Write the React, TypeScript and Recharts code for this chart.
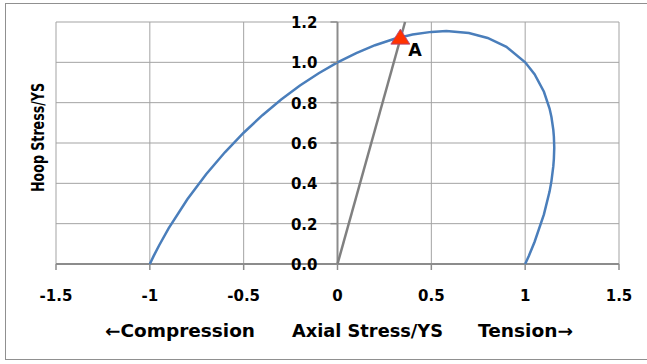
import React from 'react';
import { ScatterChart, Scatter, XAxis, YAxis, CartesianGrid, ReferenceLine } from 'recharts';

const axialTicks = [-1.5, -1, -0.5, 0, 0.5, 1, 1.5];
const hoopTicks = [0, 0.2, 0.4, 0.6, 0.8, 1.0, 1.2];

// yield envelope, traced from (-1, 0) over the top and back down to (1, 0)
const envelopeAxial = [
  -1, -0.98, -0.95, -0.9, -0.8, -0.7, -0.6, -0.5, -0.4, -0.3, -0.2, -0.1, 0,
  0.1, 0.2, 0.3, 0.4, 0.5, 0.58, 0.7, 0.8, 0.9, 1.0, 1.05, 1.1, 1.13, 1.14,
  1.15, 1.153, 1.155, 1.153, 1.15, 1.14, 1.13, 1.1, 1.05, 1.02, 1.0,
];
const envelopeHoop = [
  0, 0.039, 0.093, 0.177, 0.321, 0.445, 0.554, 0.651, 0.738, 0.816, 0.885, 0.946, 1.0,
  1.046, 1.085, 1.116, 1.138, 1.151, 1.155, 1.145, 1.121, 1.077, 1.0, 0.941, 0.854, 0.771, 0.729,
  0.665, 0.631, 0.577, 0.522, 0.485, 0.411, 0.359, 0.246, 0.109, 0.041, 0,
];

// straight load path from the origin
const loadPathAxial = [0, 0.36];
const loadPathHoop = [0, 1.2];

// point A where the load path meets the envelope
const pointAAxial = [0.335];
const pointAHoop = [1.125];
const pointALabel = ['A'];

const envelopeData = envelopeAxial.map((x, i) => ({ x, y: envelopeHoop[i] }));
const loadPathData = loadPathAxial.map((x, i) => ({ x, y: loadPathHoop[i] }));
const pointAData = pointAAxial.map((x, i) => ({ x, y: pointAHoop[i], label: pointALabel[i] }));

const W = 647;
const H = 364;
const Y_AXIS_W = 1;
const margin = { top: 22, right: 28, left: 55, bottom: 70 };
const plotLeft = margin.left + Y_AXIS_W;
const plotW = W - plotLeft - margin.right;
const xMin = axialTicks[0];
const xMax = axialTicks[axialTicks.length - 1];
const zeroX = plotLeft + (plotW * (0 - xMin)) / (xMax - xMin);

const FONT = '"DejaVu Sans", sans-serif';
const AXIS = '#8c8c8c';
const GRID = '#a3a3a3';

// hoop ticks sit next to the axis at zero axial stress, not at the left edge
const YTick = ({ y, payload }: any) => (
  <g>
    <line x1={zeroX - 7} x2={zeroX} y1={y} y2={y} stroke={AXIS} strokeWidth={1.5} />
    <text x={zeroX - 20} y={y} dy={6} textAnchor="end" fontFamily={FONT} fontWeight="bold" fontSize={15} fill="#000">
      {Number(payload.value).toFixed(1)}
    </text>
  </g>
);

const NoDot = () => <g />;

const TriangleA = ({ cx, cy, payload }: any) => (
  <g>
    <polygon
      points={`${cx},${cy - 8} ${cx + 9.5},${cy + 7} ${cx - 9.5},${cy + 7}`}
      fill="#ff3300"
      stroke="#a8407c"
      strokeWidth={0.8}
    />
    <text x={cx + 8} y={cy + 19} fontFamily={FONT} fontWeight="bold" fontSize={17.5} fill="#000">
      {payload.label}
    </text>
  </g>
);

export default function App() {
  return (
    <div style={{ position: 'absolute', left: 0, top: 0, width: W, height: H, background: '#fff', overflow: 'hidden' }}>
      <div
        style={{
          position: 'absolute',
          left: 5,
          top: 3,
          width: W,
          height: 357,
          border: '1px solid #909090',
          boxSizing: 'border-box',
        }}
      />
      <div style={{ position: 'absolute', left: 0, top: 0 }}>
        <ScatterChart width={W} height={H} margin={margin}>
          <CartesianGrid stroke={GRID} strokeWidth={1} />
          <XAxis
            type="number"
            dataKey="x"
            domain={[xMin, xMax]}
            ticks={axialTicks}
            height={30}
            tickSize={6}
            tickMargin={20}
            axisLine={{ stroke: AXIS, strokeWidth: 2 }}
            tickLine={{ stroke: AXIS, strokeWidth: 1.5 }}
            tick={{ fill: '#000', fontSize: 15, fontWeight: 'bold', fontFamily: FONT }}
          />
          <YAxis
            type="number"
            dataKey="y"
            domain={[0, 1.2]}
            ticks={hoopTicks}
            interval={0}
            width={Y_AXIS_W}
            axisLine={false}
            tickLine={false}
            tick={(props: any) => <YTick {...props} />}
          />
          <ReferenceLine x={0} stroke={AXIS} strokeWidth={2} />
          <Scatter
            data={envelopeData}
            line={{ stroke: '#4a7ebb', strokeWidth: 2.5 }}
            lineType="joint"
            shape={NoDot}
            fill="#4a7ebb"
            isAnimationActive={false}
          />
          <Scatter
            data={loadPathData}
            line={{ stroke: '#808080', strokeWidth: 2.5 }}
            lineType="joint"
            shape={NoDot}
            fill="#808080"
            isAnimationActive={false}
          />
          <Scatter data={pointAData} shape={TriangleA} fill="#ff3300" isAnimationActive={false} />
        </ScatterChart>
      </div>
      <svg width={W} height={H} style={{ position: 'absolute', left: 0, top: 0, pointerEvents: 'none' }}>
        <text
          x={44}
          y={137.5}
          transform="rotate(-90, 44, 137.5)"
          textAnchor="middle"
          fontFamily={FONT}
          fontWeight="bold"
          fontSize={17.5}
          textLength={109}
          lengthAdjust="spacingAndGlyphs"
          fill="#000"
        >
          Hoop Stress/YS
        </text>
        <text x={105} y={337} fontFamily={FONT} fontWeight="bold" fontSize={17.5} textLength={150} lengthAdjust="spacingAndGlyphs" fill="#000">
          ←Compression
        </text>
        <text x={292} y={337} fontFamily={FONT} fontWeight="bold" fontSize={17.5} textLength={151} lengthAdjust="spacingAndGlyphs" fill="#000">
          Axial Stress/YS
        </text>
        <text x={478} y={337} fontFamily={FONT} fontWeight="bold" fontSize={17.5} textLength={95} lengthAdjust="spacingAndGlyphs" fill="#000">
          Tension→
        </text>
      </svg>
    </div>
  );
}
